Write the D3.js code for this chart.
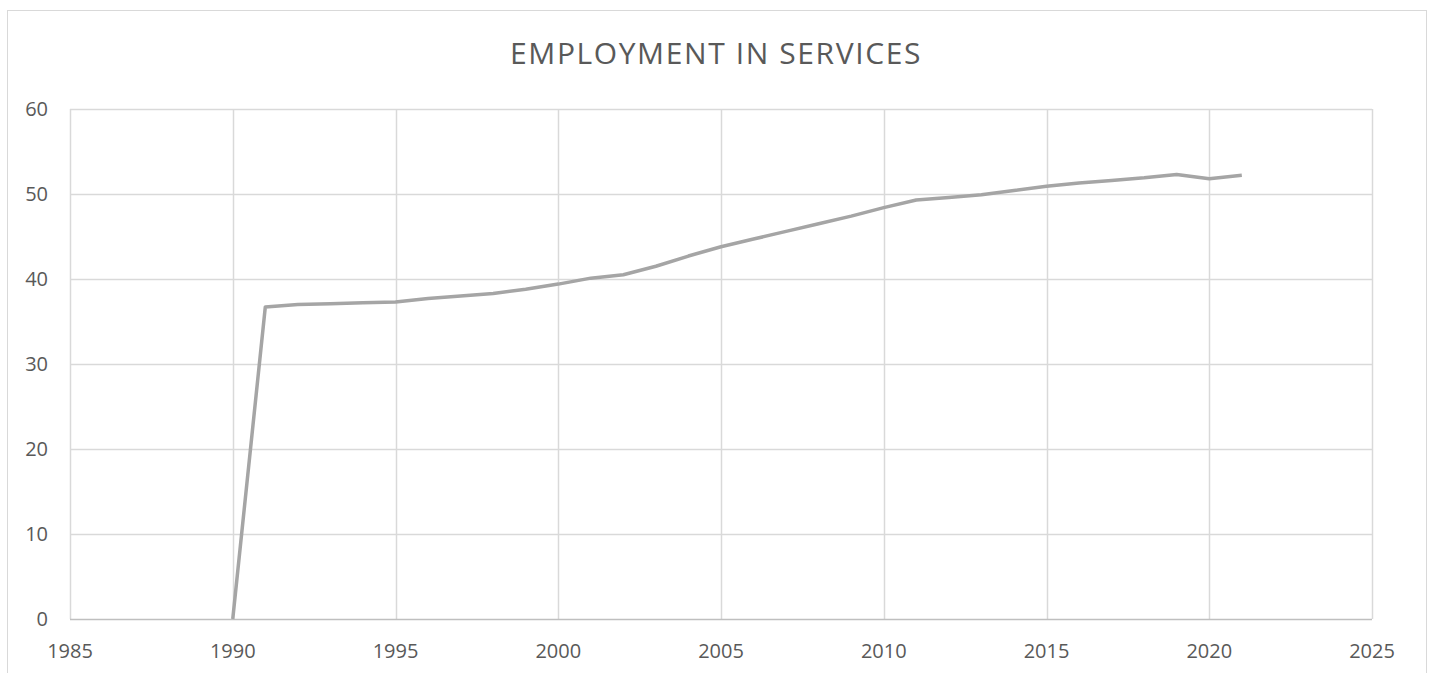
<!DOCTYPE html>
<html>
<head>
<meta charset="utf-8">
<script src="https://cdn.jsdelivr.net/npm/d3@7"></script>
<style>
  body { margin: 0; background: #fff; }
  svg { display: block; font-family: "Open Sans", "Noto Sans", sans-serif; }
</style>
</head>
<body>
<svg id="chart" width="1447" height="673"></svg>
<script>
// data
const years = [1990, 1991, 1992, 1993, 1994, 1995, 1996, 1997, 1998, 1999, 2000,
               2001, 2002, 2003, 2004, 2005, 2006, 2007, 2008, 2009, 2010,
               2011, 2012, 2013, 2014, 2015, 2016, 2017, 2018, 2019, 2020, 2021];
const services = [0, 36.7, 37.0, 37.1, 37.2, 37.3, 37.7, 38.0, 38.3, 38.8, 39.4,
                  40.1, 40.5, 41.5, 42.7, 43.8, 44.7, 45.6, 46.5, 47.4, 48.4,
                  49.3, 49.6, 49.9, 50.4, 50.9, 51.3, 51.6, 51.9, 52.3, 51.8, 52.2];
const xTicks = [1985, 1990, 1995, 2000, 2005, 2010, 2015, 2020, 2025];
const yTicks = [0, 10, 20, 30, 40, 50, 60];
const title = "EMPLOYMENT IN SERVICES";

const svg = d3.select("#chart");
const margin = {left: 70, right: 75, top: 109, bottom: 54};
const W = 1447, H = 673;

// outer chart border (bottom edge falls outside the picture)
svg.append("rect")
    .attr("x", 7.5).attr("y", 10.5)
    .attr("width", 1419).attr("height", 700)
    .attr("fill", "#fff")
    .attr("stroke", "#d9d9d9");

const x = d3.scaleLinear().domain([1985, 2025]).range([margin.left, W - margin.right]);
const y = d3.scaleLinear().domain([0, 60]).range([H - margin.bottom, margin.top]);

// grid
const grid = svg.append("g");
grid.selectAll("line.v").data(xTicks).join("line")
    .attr("x1", d => Math.round(x(d)) + 0.5).attr("x2", d => Math.round(x(d)) + 0.5)
    .attr("y1", y(60)).attr("y2", y(0))
    .attr("stroke", "#d9d9d9").attr("stroke-width", 1.5);
grid.selectAll("line.h").data(yTicks.filter(d => d > 0)).join("line")
    .attr("x1", x(1985)).attr("x2", x(2025))
    .attr("y1", d => Math.round(y(d)) + 0.5).attr("y2", d => Math.round(y(d)) + 0.5)
    .attr("stroke", "#d9d9d9").attr("stroke-width", 1.5);

// x axis baseline
svg.append("line")
    .attr("x1", x(1985)).attr("x2", x(2025))
    .attr("y1", Math.round(y(0)) + 0.5).attr("y2", Math.round(y(0)) + 0.5)
    .attr("stroke", "#bfbfbf").attr("stroke-width", 1.5);

// tick labels
svg.append("g").selectAll("text").data(yTicks).join("text")
    .attr("x", 48).attr("y", d => y(d))
    .attr("dy", "0.35em")
    .attr("text-anchor", "end")
    .attr("fill", "#595959")
    .attr("font-size", 20)
    .text(d => d);

svg.append("g").selectAll("text").data(xTicks).join("text")
    .attr("x", d => x(d)).attr("y", 651)
    .attr("dy", "0.35em")
    .attr("text-anchor", "middle")
    .attr("fill", "#595959")
    .attr("font-size", 20)
    .text(d => d);

// title
svg.append("text")
    .attr("x", 716).attr("y", 53.5)
    .attr("dy", "0.35em")
    .attr("text-anchor", "middle")
    .attr("fill", "#595959")
    .attr("font-size", 30)
    .attr("letter-spacing", "1.6px")
    .text(title);

// series line
const line = d3.line().x((d, i) => x(years[i])).y(d => y(d));
svg.append("path")
    .datum(services)
    .attr("d", line)
    .attr("fill", "none")
    .attr("stroke", "#a5a5a5")
    .attr("stroke-width", 3.5)
    .attr("stroke-linejoin", "round");
</script>
</body>
</html>
